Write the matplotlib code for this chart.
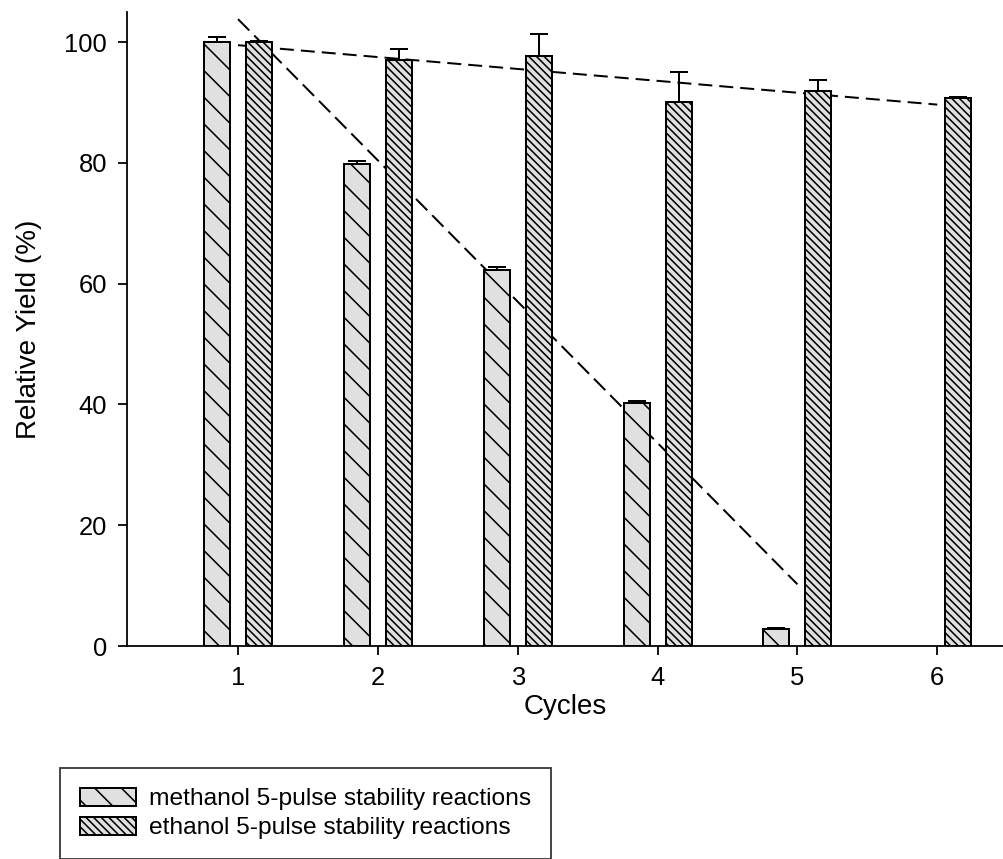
import numpy as np
import matplotlib
matplotlib.use("Agg")
import matplotlib.pyplot as plt

plt.rcParams['font.family'] = ['Liberation Sans', 'DejaVu Sans']
plt.rcParams['hatch.linewidth'] = 0.7

cycles = np.array([1, 2, 3, 4, 5, 6])
methanol = np.array([100.0, 79.8, 62.3, 40.2, 2.8, np.nan])
methanol_err = np.array([0.9, 0.6, 0.5, 0.4, 0.2, np.nan])
ethanol = np.array([100.0, 97.0, 97.7, 90.1, 91.9, 90.8])
ethanol_err = np.array([0.2, 1.8, 3.6, 4.9, 1.8, 0.2])

labels = ["methanol 5-pulse stability reactions",
          "ethanol 5-pulse stability reactions"]

fig = plt.figure(figsize=(1003 / 160, 859 / 160), dpi=160)
ax = fig.add_axes([127 / 1003, 1 - 646 / 859, 876 / 1003, 634 / 859])

w = 0.186
off = 0.15
fill = '#e0e0e0'

b1 = ax.bar(cycles - off, methanol, w, color=fill, edgecolor='black',
            linewidth=0.9, hatch='\\' * 2, label=labels[0], zorder=3)
b2 = ax.bar(cycles + off, ethanol, w, color=fill, edgecolor='black',
            linewidth=0.9, hatch='\\' * 7, label=labels[1], zorder=3)

ax.errorbar(cycles - off, methanol, yerr=[np.zeros(6), methanol_err], fmt='none',
            ecolor='black', elinewidth=0.9, capsize=4, capthick=0.9, zorder=4)
ax.errorbar(cycles + off, ethanol, yerr=[np.zeros(6), ethanol_err], fmt='none',
            ecolor='black', elinewidth=0.9, capsize=4, capthick=0.9, zorder=4)

# linear trend lines
m = ~np.isnan(methanol)
pm = np.polyfit(cycles[m], methanol[m], 1)
xm = np.array([cycles[m][0], cycles[m][-1]])
ax.plot(xm, np.polyval(pm, xm), color='black', lw=0.9, dashes=(8, 3.5), zorder=2)
pe = np.polyfit(cycles, ethanol, 1)
xe = np.array([cycles[0], cycles[-1]])
ax.plot(xe, np.polyval(pe, xe), color='black', lw=0.9, dashes=(7, 3.5), zorder=2)

ax.set_xlim(0.206, 6.47)
ax.set_ylim(0, 105)
ax.set_xticks(cycles)
ax.set_yticks([0, 20, 40, 60, 80, 100])
ax.spines['top'].set_visible(False)
ax.spines['right'].set_visible(False)
for s in ('left', 'bottom'):
    ax.spines[s].set_linewidth(0.8)
ax.tick_params(direction='out', length=4, width=0.8, labelsize=11.5, pad=5)
ax.set_xlabel("Cycles", fontsize=12.5, labelpad=2)
ax.set_ylabel("Relative Yield (%)", fontsize=12.5, labelpad=10)

leg = fig.legend(handles=[b1, b2], loc='lower left',
                 bbox_to_anchor=(60 / 1003, 0.0), fontsize=11,
                 frameon=True, fancybox=False, edgecolor='black',
                 handlelength=2.3, handleheight=0.8, handletextpad=0.55,
                 labelspacing=0.25, borderpad=0.8, borderaxespad=0)
leg.get_frame().set_linewidth(0.8)

fig.savefig("out.png", dpi=160)
